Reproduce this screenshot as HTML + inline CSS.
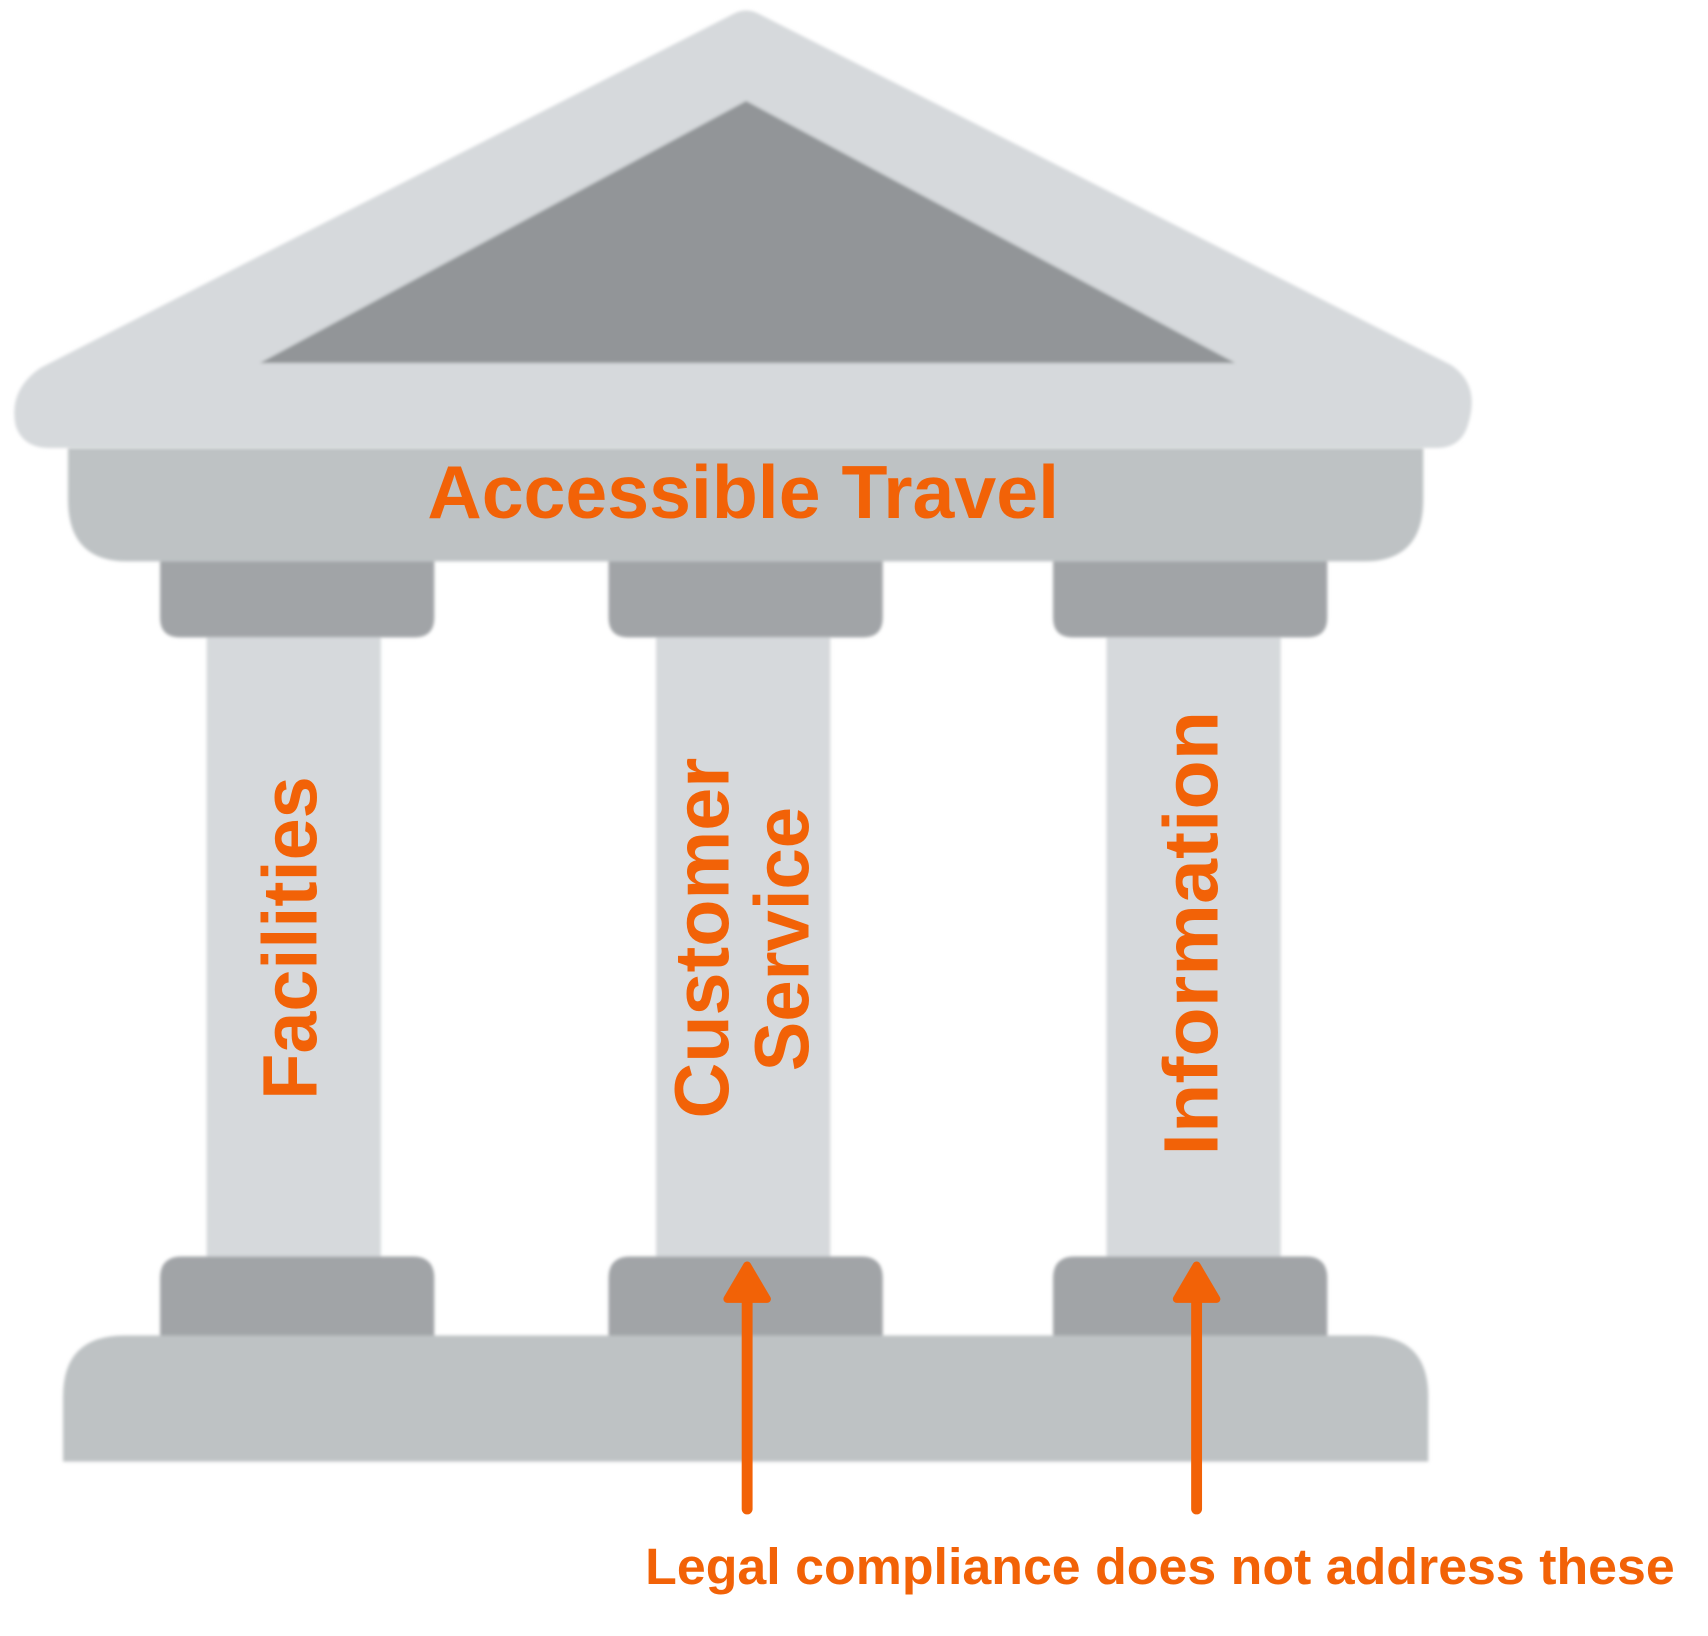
<!DOCTYPE html>
<html><head><meta charset="utf-8"><style>
html,body{margin:0;padding:0;background:#fff;}
svg{display:block;}
text{font-family:"Liberation Sans",sans-serif;font-weight:bold;fill:#f26207;}
</style></head><body>
<svg width="1708" height="1636" viewBox="0 0 1708 1636" xmlns="http://www.w3.org/2000/svg">
<defs><filter id="b"><feGaussianBlur stdDeviation="1.5"/></filter></defs>
<g transform="translate(68,0) scale(0.99,1) translate(-68,0)">
<g filter="url(#b)">
<path d="M740,14 Q753,7 766,14 L1465,365 Q1495,385 1482,425 Q1475,448 1450,448 L50,448 Q22,448 15,425 Q8,390 40,368 Z" fill="#d6d9dc"/>
<polygon points="753,101 1247,363 262,363" fill="#929598"/>
</g>
<g transform="translate(0,451) scale(1,0.986) translate(0,-451)">
<g filter="url(#b)">
<path d="M68,448 L1437,448 L1437,500 Q1437,563 1377,563 L128,563 Q68,563 68,500 Z" fill="#bec2c4"/>
<path d="M161,563 H438 V620 Q438,640 418,640 H181 Q161,640 161,620 Z" fill="#a1a4a7"/>
<path d="M614,563 H891 V620 Q891,640 871,640 H634 Q614,640 614,620 Z" fill="#a1a4a7"/>
<path d="M1063,563 H1340 V620 Q1340,640 1320,640 H1083 Q1063,640 1063,620 Z" fill="#a1a4a7"/>
<rect x="208" y="640" width="176" height="630" fill="#d6d9dc"/>
<rect x="662" y="640" width="176" height="630" fill="#d6d9dc"/>
<rect x="1117" y="640" width="176" height="630" fill="#d6d9dc"/>
<path d="M161,1290 Q161,1268 183,1268 H416 Q438,1268 438,1290 V1352 H161 Z" fill="#a1a4a7"/>
<path d="M614,1290 Q614,1268 636,1268 H869 Q891,1268 891,1290 V1352 H614 Z" fill="#a1a4a7"/>
<path d="M1063,1290 Q1063,1268 1085,1268 H1318 Q1340,1268 1340,1290 V1352 H1063 Z" fill="#a1a4a7"/>
<path d="M63,1476 V1410 Q63,1348 125,1348 H1380 Q1442,1348 1442,1410 V1476 Z" fill="#bec2c4"/>
</g>
<text x="750" y="519" font-size="76" text-anchor="middle" textLength="638" lengthAdjust="spacingAndGlyphs">Accessible Travel</text>
<text transform="translate(319,945) rotate(-90)" font-size="78" text-anchor="middle" textLength="328" lengthAdjust="spacingAndGlyphs">Facilities</text>
<text transform="translate(735,945) rotate(-90)" font-size="78" text-anchor="middle" textLength="366" lengthAdjust="spacingAndGlyphs">Customer</text>
<text transform="translate(816,946) rotate(-90)" font-size="78" text-anchor="middle" textLength="268" lengthAdjust="spacingAndGlyphs">Service</text>
<text transform="translate(1229,940) rotate(-90)" font-size="78" text-anchor="middle" textLength="451" lengthAdjust="spacingAndGlyphs">Information</text>
<g stroke="#f26207" stroke-linecap="round" stroke-linejoin="round" fill="#f26207">
<line x1="754" y1="1524" x2="754" y2="1300" stroke-width="11"/>
<polygon points="754,1277 774,1311 734,1311" stroke-width="8"/>
<line x1="1208" y1="1524" x2="1208" y2="1300" stroke-width="11"/>
<polygon points="1208,1277 1228,1311 1188,1311" stroke-width="8"/>
</g>
<text x="651" y="1600" font-size="52" textLength="1040" lengthAdjust="spacingAndGlyphs">Legal compliance does not address these</text>
</g>
</g>
</svg>
</body></html>
